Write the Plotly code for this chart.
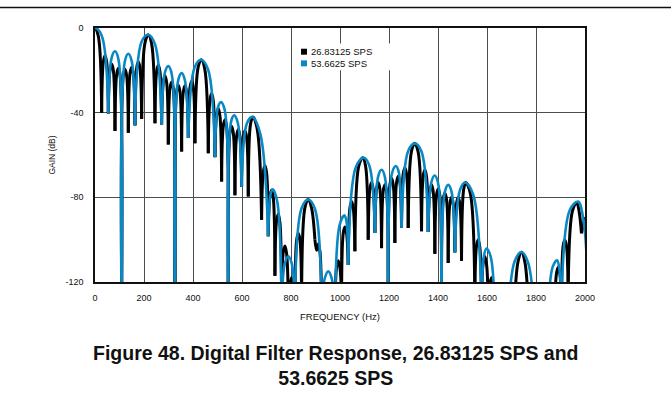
import plotly.graph_objects as go

# ---------------- data ----------------
FREQ_TICKS = [0, 200, 400, 600, 800, 1000, 1200, 1400, 1600, 1800, 2000]
GAIN_TICKS = [0, -40, -80, -120]
GAIN_TICK_TEXT = ["0", "-40", "-80", "-120"]
SERIES_NAMES = ["26.83125 SPS", "53.6625 SPS"]

# 26.83125 SPS (black): notch frequencies / depths and lobe tops
black_null_hz = [-27.2, 27.2, 54.4, 81.6, 108.8, 136.0, 163.2, 190.4,
                 244.8, 272.0, 299.2, 326.4, 353.6, 380.8, 408.0,
                 462.4, 489.6, 516.8, 544.0, 571.2, 598.4, 625.6,
                 680.0, 707.2, 734.4, 761.6, 788.8, 816.0, 843.2,
                 897.6, 924.8, 952.0, 979.2, 1006.4, 1033.6, 1060.8,
                 1115.2, 1142.4, 1169.6, 1196.8, 1224.0, 1251.2, 1278.4,
                 1332.8, 1360.0, 1387.2, 1414.4, 1441.6, 1468.8, 1496.0,
                 1550.4, 1577.6, 1604.8, 1632.0, 1659.2, 1686.4, 1713.6,
                 1768.0, 1795.2, 1822.4, 1849.6, 1876.8, 1904.0, 1931.2,
                 1985.6, 2012.8]
black_null_db = [-40, -40, -40.4, -48.7, -130, -49.5, -46, -43,
                 -45, -45.6, -55, -130, -58.4, -52, -54.5,
                 -59.2, -61, -72.5, -130, -79, -75, -79.6,
                 -90.6, -98.4, -117, -130, -128, -130, -128,
                 -100, -130, -130, -135, -128, -112, -105.5,
                 -100, -96.8, -104, -130, -101.6, -94.2, -94.5,
                 -96, -96.4, -106.7, -130, -111, -106, -110,
                 -128, -130, -128, -135, -130, -135, -128,
                 -130, -140, -135, -135, -130, -130, -125,
                 -97, -110]
black_peak_hz = [0, 40.8, 68.0, 95.2, 122.4, 149.6, 176.8, 217.6,
                 258.4, 285.6, 312.8, 340.0, 367.2, 394.4, 434.0,
                 476.0, 503.2, 530.4, 557.6, 584.8, 612.0, 645.0,
                 693.6, 720.8, 748.0, 775.2, 802.4, 829.6, 870.0,
                 911.2, 938.4, 965.6, 992.8, 1020.0, 1047.2, 1093.0,
                 1128.8, 1156.0, 1183.2, 1210.4, 1237.6, 1264.8, 1305.0,
                 1346.4, 1373.6, 1400.8, 1428.0, 1455.2, 1482.4, 1513.0,
                 1564.0, 1591.2, 1618.4, 1645.6, 1672.8, 1700.0, 1741.0,
                 1781.6, 1808.8, 1836.0, 1863.2, 1890.4, 1917.6, 1966.0,
                 1999.2]
black_peak_db = [0, -13, -17, -19, -19.5, -18.5, -16, -3.2,
                 -17.5, -22.5, -25.5, -27, -27.3, -25.2, -15,
                 -31, -38, -43.4, -46.4, -48, -48.5, -42,
                 -65, -76.5, -88, -103, -118, -97, -81,
                 -102, -122, -125, -110, -94, -82, -61.3,
                 -73, -73, -74, -71, -70, -66, -54.5,
                 -67, -74, -76, -78, -80, -80, -73,
                 -100, -108, -118, -126, -126, -122, -106,
                 -125, -128, -128, -122, -113, -100, -82.5,
                 -90]
black_rise_db = [-3.9, -16, -20, -22, -22.5, -21.5, -19, -7,
                 -20.5, -25.5, -28.5, -30, -30.2, -28.2, -18.5,
                 -34, -41, -46.4, -49.4, -51, -51.4, -45,
                 -68, -79.5, -91, -106, -121, -100.5, -85,
                 -105, -125, -128, -113, -97, -85, -65,
                 -76, -76, -77, -74, -73, -69, -58.3,
                 -70, -77, -79, -81, -83, -83, -76.5,
                 -103, -111, -121, -129, -129, -125, -110,
                 -128, -131, -131, -125, -116, -103, -86.5,
                 -93]
black_fall_db = [-3.9, -16, -20, -22, -22.5, -21.5, -19, -7.5,
                 -20.7, -25.7, -28.7, -30, -30.3, -28, -19.5,
                 -34.5, -41.5, -46.6, -49.5, -51.2, -51.5, -48,
                 -68.5, -80, -92, -106.5, -121, -100, -85,
                 -105.5, -125, -128, -113, -97, -85, -65,
                 -76, -76, -77, -74, -73, -69, -58.5,
                 -70.3, -77.2, -79.2, -81, -83, -83, -78,
                 -103.5, -111.5, -121, -129, -129, -125, -110.5,
                 -128, -131, -131, -125, -116, -103, -86.5,
                 -93]

# 53.6625 SPS (blue)
blue_null_hz = [-54.4, 54.4, 108.8, 163.2, 272.0, 326.4, 380.8, 489.6, 544.0,
                598.4, 707.2, 761.6, 816.0, 924.8, 979.2, 1033.6, 1142.4,
                1196.8, 1251.2, 1360.0, 1414.4, 1468.8, 1577.6, 1632.0,
                1686.4, 1795.2, 1849.6, 1904.0, 2013.6]
blue_null_db = [-40.4, -40.4, -130, -46, -45.6, -130, -52, -61, -130,
                -75, -98.4, -130, -130, -130, -135, -112, -96.8,
                -130, -94.2, -96.4, -130, -106, -130, -135,
                -135, -140, -135, -130, -125]
blue_peak_hz = [0, 81.6, 136.0, 217.0, 299.0, 353.6, 433.0, 514.0, 568.0,
                642.0, 726.0, 789.0, 871.0, 952.0, 1018.0, 1097.0, 1170.0,
                1228.0, 1306.0, 1386.0, 1442.0, 1511.0, 1598.0, 1659.0,
                1741.0, 1822.0, 1886.0, 1972.0]
blue_peak_db = [0, -11, -12.2, -3.2, -18, -21.3, -15, -35, -41.3,
                -42, -76.2, -107.8, -81, -115, -88.5, -61.3, -67,
                -65.2, -54.5, -69.7, -74.1, -73, -104.2, -125,
                -105.8, -125, -109.7, -82]
blue_rise_db = [-3.5, -14, -15.5, -6.5, -21, -24.5, -18.5, -37.5, -44,
                -45, -78.5, -111, -85, -118, -93, -65.5, -70,
                -68.5, -58, -72.8, -77.3, -76.5, -107.5, -130,
                -110, -130, -113, -86]
blue_fall_db = [-3.5, -14.5, -15.5, -7.5, -21.5, -24.8, -19.5, -38.5, -45,
                -50, -82, -111, -85.5, -118, -91, -65, -70.5,
                -68, -58.5, -73.2, -77.4, -79, -108, -130,
                -111, -130, -113.5, -90]


def lobe_path(null_hz, null_db, peak_hz, peak_db, rise_db, fall_db):
    """Build one path made of separate arches, one per lobe (notch -> top -> notch)."""
    xs, ys = [], []
    for i in range(len(peak_hz)):
        a, b, p = null_hz[i], null_hz[i + 1], peak_hz[i]
        xs += [a, (a + p) / 2, p, (p + b) / 2, b, None]
        ys += [null_db[i], rise_db[i], peak_db[i], fall_db[i], null_db[i + 1], None]
    return xs, ys


BLACK = "#000000"
BLUE = "#0a88c6"
FONT = "Liberation Sans, Arial, Helvetica, sans-serif"
TEXT = "#111111"

fig = go.Figure()

bx, by = lobe_path(black_null_hz, black_null_db, black_peak_hz, black_peak_db,
                   black_rise_db, black_fall_db)
ux, uy = lobe_path(blue_null_hz, blue_null_db, blue_peak_hz, blue_peak_db,
                   blue_rise_db, blue_fall_db)

fig.add_trace(go.Scatter(x=bx, y=by, mode="lines", name=SERIES_NAMES[0],
                         connectgaps=False, showlegend=False, hoverinfo="skip",
                         line=dict(color=BLACK, width=3, shape="spline", smoothing=1)))
fig.add_trace(go.Scatter(x=ux, y=uy, mode="lines", name=SERIES_NAMES[1],
                         connectgaps=False, showlegend=False, hoverinfo="skip",
                         line=dict(color=BLUE, width=2.6, shape="spline", smoothing=1)))

# plot area in pixels: x 95..585, y 27.5..282.5
L, R, T, B = 95, 585, 27.5, 282.5


def px(x):
    return (x - L) / (R - L)


def py(y):
    return (B - y) / (B - T)


shapes = [
    # rule at the top of the page
    dict(type="line", xref="paper", yref="paper", x0=px(0), x1=px(671),
         y0=py(7), y1=py(7), line=dict(color="#111111", width=1.5), layer="above"),
    # legend background
    dict(type="rect", xref="paper", yref="paper", x0=px(297), x1=px(395),
         y0=py(70), y1=py(43), fillcolor="white", line=dict(width=0), layer="above"),
    dict(type="rect", xref="paper", yref="paper", x0=px(301), x1=px(307),
         y0=py(54.3), y1=py(48.3), fillcolor=BLACK, line=dict(width=0), layer="above"),
    dict(type="rect", xref="paper", yref="paper", x0=px(301), x1=px(307),
         y0=py(66), y1=py(60), fillcolor=BLUE, line=dict(width=0), layer="above"),
]

annotations = [
    dict(xref="paper", yref="paper", x=px(309), y=py(51.3), xanchor="left", yanchor="middle",
         text=SERIES_NAMES[0], showarrow=False, font=dict(family=FONT, size=9.5, color=TEXT)),
    dict(xref="paper", yref="paper", x=px(309), y=py(63), xanchor="left", yanchor="middle",
         text=SERIES_NAMES[1], showarrow=False, font=dict(family=FONT, size=9.5, color=TEXT)),
    dict(xref="paper", yref="paper", x=px(336), y=py(366), xanchor="center", yanchor="middle",
         text="<b>Figure 48. Digital Filter Response, 26.83125 SPS and</b><br><b>53.6625 SPS</b>",
         showarrow=False, font=dict(family=FONT, size=19.5, color="#111111")),
]

fig.update_layout(
    width=671, height=406,
    margin=dict(l=L, r=671 - R, t=T, b=406 - B, pad=0),
    paper_bgcolor="white", plot_bgcolor="white",
    font=dict(family=FONT, color=TEXT),
    shapes=shapes, annotations=annotations,
    showlegend=False, hovermode=False,
)

fig.update_xaxes(
    range=[0, 2000], tickvals=FREQ_TICKS, ticktext=[str(v) for v in FREQ_TICKS],
    showgrid=True, gridcolor="#4d4d4d", gridwidth=1, zeroline=False,
    showline=True, linecolor="#111111", linewidth=1.5, mirror=True,
    ticks="", ticklabelstandoff=6, tickfont=dict(family=FONT, size=9, color=TEXT),
    title=dict(text="FREQUENCY (Hz)", font=dict(family=FONT, size=9.5, color=TEXT), standoff=12),
)
fig.update_yaxes(
    range=[-120, 0], tickvals=GAIN_TICKS, ticktext=GAIN_TICK_TEXT,
    showgrid=True, gridcolor="#4d4d4d", gridwidth=1, zeroline=False,
    showline=True, linecolor="#111111", linewidth=1.5, mirror=True,
    ticks="", ticklabelstandoff=8, tickfont=dict(family=FONT, size=9, color=TEXT),
    title=dict(text="GAIN (dB)", font=dict(family=FONT, size=8.5, color=TEXT), standoff=8),
)

fig.write_html("out.html", config={"displayModeBar": False},
               post_script="document.body.style.margin='0px';")
